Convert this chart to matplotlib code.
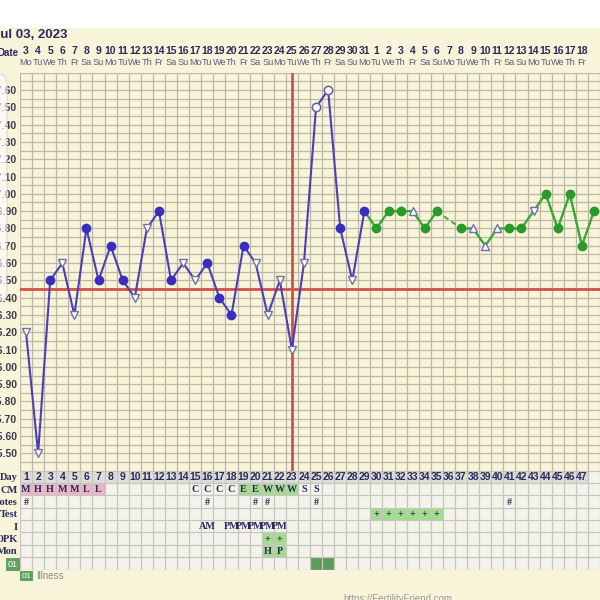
import numpy as np
import matplotlib.pyplot as plt
from matplotlib.patches import FancyBboxPatch, Rectangle
from matplotlib.transforms import blended_transform_factory

# data
days = np.arange(1, 49)
temps = [96.20, 95.50, 96.50, 96.60, 96.30, 96.80, 96.50, 96.70, 96.50, 96.40,
         96.80, 96.90, 96.50, 96.60, 96.50, 96.60, 96.40, 96.30, 96.70, 96.60,
         96.30, 96.50, 96.10, 96.60, 97.50, 97.60, 96.80, 96.50, 96.90, 96.80,
         96.90, 96.90, 96.90, 96.80, 96.90, np.nan, 96.80, 96.80, 96.70, 96.80,
         96.80, 96.80, 96.90, 97.00, 96.80, 97.00, 96.70, 96.90]
# f = filled, v = open triangle down, ^ = open triangle up, o = open circle
marks = ["v", "v", "f", "v", "v", "f", "f", "f", "f", "v",
         "v", "f", "f", "v", "v", "f", "f", "f", "f", "v",
         "v", "v", "v", "v", "o", "o", "f", "v", "f", "f",
         "f", "f", "^", "f", "f", "", "f", "^", "^", "^",
         "f", "f", "v", "f", "f", "f", "f", "f"]
coverline = 96.45
ovulation_day = 23
date_nums = list(range(3, 32)) + list(range(1, 19))
weekdays = ["Mo", "Tu", "We", "Th", "Fr", "Sa", "Su"]

cm = {1: "M", 2: "H", 3: "H", 4: "M", 5: "M", 6: "L", 7: "L",
      15: "C", 16: "C", 17: "C", 18: "C", 19: "E", 20: "E",
      21: "W", 22: "W", 23: "W", 24: "S", 25: "S"}
cm_pink = [1, 2, 3, 4, 5, 6, 7]
cm_green = [19, 20, 21, 22, 23]
notes = [1, 16, 20, 21, 25, 41]
test_pos = [30, 31, 32, 33, 34, 35]
intercourse = {16: "AM", 18: "PM", 19: "PM", 20: "PM", 21: "PM", 22: "PM"}
opk = {21: "+", 22: "+"}
mon = {21: "H", 22: "P"}
illness = [25, 26]
row_names = ["Day", "CM", "Notes", "Test", "I", "OPK", "Mon", "01"]

navy = "#2b2a5c"
blue = "#4b3fb8"
blue_dot = "#3a2ec0"
green = "#35a835"
green_dot = "#2a9a2a"
red = "#d4504c"
cream = "#f8f4da"
gridc = "#bdb8a6"
sans = "Liberation Sans"
serif = "Liberation Serif"

temps = np.array(temps)
fig = plt.figure(figsize=(6, 6), dpi=100, facecolor=cream)
fig.add_artist(Rectangle((0, 5.72), 6, 0.3, transform=fig.dpi_scale_trans,
                         facecolor="white", edgecolor="none"))

colw = 12.33
x_right = 0.5 + 580 / colw

# temperature chart
ax = fig.add_axes([20 / 600, 1 - 470.7 / 600, 580 / 600, 398 / 600])
ax.set_facecolor(cream)
ax.set_xlim(0.5, x_right)
ax.set_ylim(95.40, 97.70)
ax.set_xticks(np.arange(0.5, 49, 1), minor=True)
ax.set_xticks([])
ax.set_yticks(np.arange(95.50, 97.65, 0.1))
ax.set_yticklabels(["%.2f" % v for v in np.arange(95.50, 97.65, 0.1)],
                   fontsize=7.5, color="#3a3a50", fontweight="bold", family=sans)
ax.set_yticks(np.arange(95.40, 97.75, 0.05), minor=True)
ax.tick_params(which="both", length=0, pad=2)
ax.grid(which="both", color=gridc, lw=0.9)
ax.set_axisbelow(True)
for s in ax.spines.values():
    s.set_visible(False)

ax.axhline(coverline, color=red, lw=2, zorder=2)
ax.axvline(ovulation_day, color=red, lw=2, zorder=2)

# blue part
ax.plot(days[:29], temps[:29], color=blue, lw=1.5, zorder=3)
# green part, dashed across missing days
gd, gt = days[28:], temps[28:]
ok = ~np.isnan(gt)
ax.plot(gd[ok], gt[ok], color=green, lw=1.3, ls=(0, (3, 2)), zorder=3)
ax.plot(gd, gt, color=green, lw=1.6, zorder=3)

for i, (d, t, m) in enumerate(zip(days, temps, marks)):
    if m == "":
        continue
    in_blue = i < 29
    if m == "f":
        ax.plot(d, t, "o", ms=6, color=blue_dot if in_blue else green_dot, zorder=4)
    elif m == "o":
        ax.plot(d, t, "o", ms=6, mfc="white", mec="#6060a8", mew=1.1, zorder=4)
    else:
        ax.plot(d, t, m, ms=6, mfc="white", mec="#7070aa", mew=1.0, zorder=4)

# header
tr = blended_transform_factory(ax.transData, fig.transFigure)
for i, dn in enumerate(date_nums):
    ax.text(i + 1, 1 - 51 / 600, str(dn), transform=tr, ha="center", va="center",
            fontsize=7.5, fontweight="bold", color=navy, family=sans, clip_on=False)
    ax.text(i + 1, 1 - 62.5 / 600, weekdays[i % 7], transform=tr, ha="center",
            va="center", fontsize=6.6, color="#5a5a7a", family=sans, clip_on=False)
fig.text(19 / 600, 1 - 53 / 600, "Date", ha="right", va="center", fontsize=7,
         fontweight="bold", color=navy, family=sans)
fig.text(-7 / 600, 1 - 35 / 600, "Jul 03, 2023", ha="left", va="center",
         fontsize=9.5, fontweight="bold", color=navy, family=sans)

# faded side panel
fig.add_artist(FancyBboxPatch((-0.3, (600 - 302) / 100), 0.37, 2.29,
                              boxstyle="round,pad=0,rounding_size=0.12",
                              transform=fig.dpi_scale_trans, facecolor="white",
                              alpha=0.6, edgecolor="#c8c8c8", lw=0.8))

# table
tb = fig.add_axes([20 / 600, 1 - 569.5 / 600, 580 / 600, 98.8 / 600])
tb.set_facecolor("#f3f3ec")
tb.set_xlim(0.5, x_right)
tb.set_ylim(8, 0)
tb.set_xticks(np.arange(0.5, 49, 1), minor=True)
tb.set_xticks([])
tb.set_yticks(np.arange(0, 9), minor=True)
tb.set_yticks(np.arange(0.5, 8, 1))
tb.set_yticklabels(row_names, fontsize=7.5, fontweight="bold", color=navy,
                   family=serif)
tb.tick_params(which="both", length=0, pad=1.5)
lab01 = tb.get_yticklabels()[-1]
lab01.set_color("white")
lab01.set_fontfamily(sans)
lab01.set_fontweight("normal")
lab01.set_fontsize(6.5)
lab01.set_bbox(dict(facecolor="#5fa35f", edgecolor="none", pad=1.5))
tb.grid(which="minor", color="#c6c6be", lw=0.9)
tb.set_axisbelow(False)
for s in tb.spines.values():
    s.set_visible(False)

tb.bar(days[:47], 1, bottom=0, width=1, color="#dcdcd8", zorder=0)
tb.bar(cm_pink, 1, bottom=1, width=1, color="#efb3c9", zorder=0)
tb.bar(cm_green, 1, bottom=1, width=1, color="#a3dc8c", zorder=0)
tb.bar(test_pos, 1, bottom=3, width=1, color="#a3dc8c", zorder=0)
tb.bar(list(opk), 1, bottom=5, width=1, color="#a3dc8c", zorder=0)
tb.bar(list(mon), 1, bottom=6, width=1, color="#a3dc8c", zorder=0)
tb.bar(illness, 1, bottom=7, width=1, color="#5e9c5e", zorder=0)

cell_kw = dict(ha="center", va="center", color=navy, fontweight="bold",
               family=serif, fontsize=7.3)
for d in days[:47]:
    tb.text(d, 0.55, str(d), ha="center", va="center", color=navy,
            fontweight="bold", fontsize=7.5, family=sans)
for d, c in cm.items():
    tb.text(d, 1.55, c, **cell_kw)
for d in notes:
    tb.text(d, 2.55, "#", **cell_kw)
for d in test_pos:
    tb.text(d, 3.55, "+", **cell_kw)
for d, c in intercourse.items():
    tb.text(d, 4.55, c, **cell_kw)
for d, c in opk.items():
    tb.text(d, 5.55, c, **cell_kw)
for d, c in mon.items():
    tb.text(d, 6.55, c, **cell_kw)

# legend / footer
fig.text(26.5 / 600, 1 - 576 / 600, "01", ha="center", va="center", fontsize=6,
         color="white", family=sans,
         bbox=dict(facecolor="#5fa35f", edgecolor="none", pad=1.2))
fig.text(36 / 600, 1 - 576 / 600, "Illness", ha="left", va="center",
         fontsize=7, color="#8a8a8a", family=sans)
fig.text(343 / 600, 1 - 599 / 600, "https://FertilityFriend.com", ha="left",
         va="center", fontsize=7, color="#9a9a9a", family=sans)

fig.savefig("out.png", dpi=100, facecolor=cream)
